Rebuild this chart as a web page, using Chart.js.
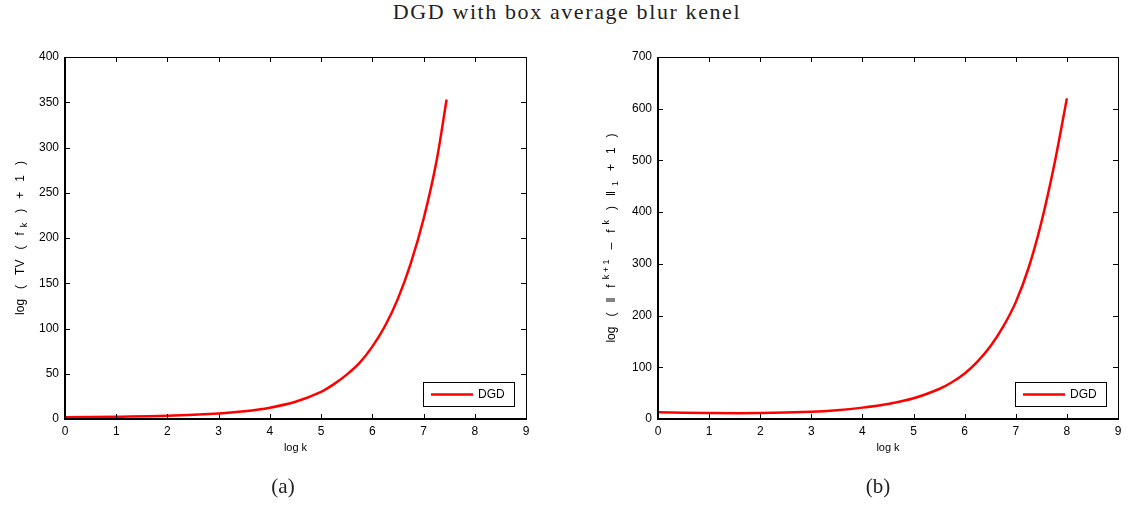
<!DOCTYPE html>
<html>
<head>
<meta charset="utf-8">
<script src="https://cdn.jsdelivr.net/npm/chart.js@4.4.1/dist/chart.umd.min.js"></script>
<style>
  html, body { margin: 0; padding: 0; background: #fff; }
  body { width: 1128px; height: 506px; position: relative; overflow: hidden; }
  .cv { position: absolute; top: 0; width: 564px; height: 506px; }
  .txt { position: absolute; font-family: "Liberation Serif", "DejaVu Serif", serif; color: #222; white-space: nowrap; transform: translateX(-50%); line-height: 1.15; }
</style>
</head>
<body>
<div class="txt" id="titulo" style="left:567px; top:-1px; font-size:22px; letter-spacing:1.6px;">DGD with box average blur kenel</div>
<div class="cv" style="left:0"><canvas id="graf_a" width="564" height="506"></canvas></div>
<div class="cv" style="left:564px"><canvas id="graf_b" width="564" height="506"></canvas></div>
<div class="txt" style="left:283px; top:474px; font-size:21px;">(a)</div>
<div class="txt" style="left:878px; top:474px; font-size:21px;">(b)</div>
<script>
// valores
const logK_a = [0, 1, 2, 3, 3.5, 4, 4.5, 5, 5.25, 5.5, 5.75, 6, 6.25, 6.5, 6.75, 7, 7.25, 7.45]
const tv_a = [2, 2.5, 3.5, 6, 8.5, 12.5, 19, 30, 38.5, 49, 62, 80, 103, 133, 172, 221, 284, 353]
const logK_b = [0, 1, 2, 3, 3.5, 4, 4.5, 5, 5.5, 5.75, 6, 6.25, 6.5, 6.75, 7, 7.25, 7.5, 7.75, 8]
const diff_b = [13, 11.5, 11.5, 14, 17, 22, 29, 40, 58, 71, 88, 111, 140, 178, 226, 292, 380, 490, 620]
const serieLabel = 'DGD'

// rótulo do eixo y: pedaços [texto, deslocamento] (0 normal, 1 sub, -1 sup)
const ylabel_a = [['log   (   TV   (   f', 0], ['  k', 1], ['   )   +   1   )', 0]]
const ylabel_b = [['log   (   \u2016   f', 0], ['  k + 1', -1], ['   \u2013   f', 0], ['  k', -1], ['   )   \u2016', 0], ['  1', 1], ['   +   1   )', 0]]

const fonte = '"Liberation Sans", Arial, sans-serif'

function pontos(xs, ys) {
    let array = []
    for (let i = 0; i < xs.length; i++) {
        array.push({x: xs[i], y: ys[i]})
    }
    return array
}

// moldura estilo matlab, ticks para dentro, legenda e rótulo y
const matlabBox = {
    id: 'matlabBox',
    afterDraw(chart, args, opts) {
        const ctx = chart.ctx
        const a = chart.chartArea
        const sx = chart.scales.x, sy = chart.scales.y
        ctx.save()
        ctx.strokeStyle = '#000'
        ctx.lineWidth = 1
        ctx.strokeRect(a.left + 0.5, a.top + 0.5, a.right - a.left, a.bottom - a.top)
        ctx.lineWidth = 2
        ctx.beginPath()
        ctx.moveTo(a.left, a.top)
        ctx.lineTo(a.left, a.bottom)
        ctx.lineTo(a.right, a.bottom)
        ctx.stroke()
        ctx.lineWidth = 1
        ctx.beginPath()
        sx.ticks.forEach(t => {
            const px = Math.round(sx.getPixelForValue(t.value)) + 0.5
            ctx.moveTo(px, a.bottom); ctx.lineTo(px, a.bottom - 5)
            ctx.moveTo(px, a.top); ctx.lineTo(px, a.top + 5)
        })
        sy.ticks.forEach(t => {
            const py = Math.round(sy.getPixelForValue(t.value)) + 0.5
            ctx.moveTo(a.left, py); ctx.lineTo(a.left + 5, py)
            ctx.moveTo(a.right, py); ctx.lineTo(a.right - 5, py)
        })
        ctx.stroke()

        // legenda
        const ds = chart.data.datasets[0]
        const bw = 91, bh = 24
        const bx = a.right - 12 - bw, by = a.bottom - 13 - bh
        ctx.fillStyle = '#fff'
        ctx.fillRect(bx, by, bw, bh)
        ctx.strokeStyle = '#000'
        ctx.lineWidth = 1
        ctx.strokeRect(bx + 0.5, by + 0.5, bw, bh)
        ctx.strokeStyle = ds.borderColor
        ctx.lineWidth = 2.5
        ctx.beginPath()
        ctx.moveTo(bx + 8, by + bh / 2 + 0.5)
        ctx.lineTo(bx + 50, by + bh / 2 + 0.5)
        ctx.stroke()
        ctx.fillStyle = '#000'
        ctx.font = '12px ' + fonte
        ctx.textBaseline = 'middle'
        ctx.fillText(ds.label, bx + 55, by + bh / 2 + 1)

        // rótulo do eixo y com sub/sobrescrito
        const partes = opts.ylabel
        const tam = (p) => p[1] === 0 ? 12 : 9
        let total = 0
        partes.forEach(p => { ctx.font = tam(p) + 'px ' + fonte; total += ctx.measureText(p[0]).width })
        ctx.translate(opts.ylabelX, (a.top + a.bottom) / 2)
        ctx.rotate(-Math.PI / 2)
        ctx.textBaseline = 'alphabetic'
        let cx = -total / 2
        partes.forEach(p => {
            ctx.font = tam(p) + 'px ' + fonte
            const dy = p[1] === 1 ? 3 : (p[1] === -1 ? -6 : 0)
            ctx.fillText(p[0], cx, 4 + dy)
            cx += ctx.measureText(p[0]).width
        })
        ctx.restore()
    }
}

function fazGrafico(id, dados, yMax, yStep, yWidth, padRight, ylabel, ylabelX) {
    const ctx = document.getElementById(id).getContext('2d')
    return new Chart(ctx, {
        type: 'line',
        data: {
            datasets: [{
                label: serieLabel,
                data: dados,
                borderColor: '#ff0000',
                borderWidth: 2.5,
                pointRadius: 0,
                fill: false,
                tension: 0.3
            }]
        },
        plugins: [matlabBox],
        options: {
            responsive: false,
            animation: false,
            events: [],
            layout: { padding: { top: 57, right: padRight, left: 0, bottom: 51 } },
            plugins: {
                legend: { display: false },
                tooltip: { enabled: false },
                matlabBox: { ylabel: ylabel, ylabelX: ylabelX }
            },
            scales: {
                x: {
                    type: 'linear',
                    min: 0,
                    max: 9,
                    ticks: { stepSize: 1, color: '#000', padding: 5, maxRotation: 0, font: { family: fonte, size: 12 } },
                    grid: { display: false, drawTicks: false },
                    border: { display: false },
                    title: { display: true, text: 'log k', color: '#000', padding: { top: 2, bottom: 0 }, font: { family: fonte, size: 11 } },
                    afterFit: (s) => { s.height = 36 }
                },
                y: {
                    min: 0,
                    max: yMax,
                    ticks: { stepSize: yStep, color: '#000', padding: 6, font: { family: fonte, size: 12 } },
                    grid: { display: false, drawTicks: false },
                    border: { display: false },
                    afterFit: (s) => { s.width = yWidth }
                }
            }
        }
    })
}

const chartA = fazGrafico('graf_a', pontos(logK_a, tv_a), 400, 50, 65, 38, ylabel_a, 20)
const chartB = fazGrafico('graf_b', pontos(logK_b, diff_b), 700, 100, 94, 10, ylabel_b, 47)
</script>
</body>
</html>
